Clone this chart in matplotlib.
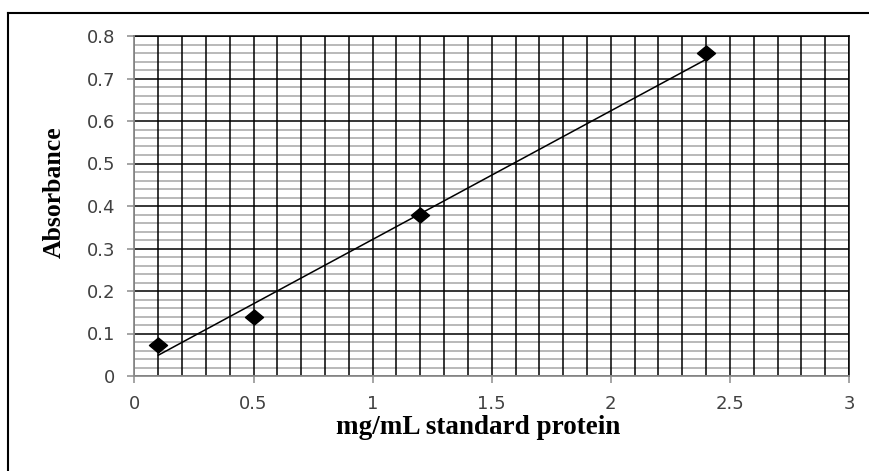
import matplotlib
matplotlib.use('Agg')
import matplotlib.pyplot as plt
from matplotlib.ticker import MultipleLocator, FixedLocator
from matplotlib.path import Path
from matplotlib.lines import Line2D

# ---- data ----
conc = [0.1, 0.5, 1.2, 2.4]            # mg/mL standard protein
absorbance = [0.073, 0.14, 0.38, 0.76]  # absorbance
trend_x = [0.1, 2.4]                    # linear trendline ends
trend_y = [0.049, 0.745]
x_ticks = [0, 0.5, 1, 1.5, 2, 2.5, 3]
x_tick_labels = ['0', '0.5', '1', '1.5', '2', '2.5', '3']
y_ticks = [0, 0.1, 0.2, 0.3, 0.4, 0.5, 0.6, 0.7, 0.8]
y_tick_labels = ['0', '0.1', '0.2', '0.3', '0.4', '0.5', '0.6', '0.7', '0.8']
x_label = 'mg/mL standard protein'
y_label = 'Absorbance'

W, H = 870, 471
fig = plt.figure(figsize=(W / 100, H / 100), dpi=100)

# outer chart frame (left and top edges visible)
fig.add_artist(Line2D([8.5 / W, 8.5 / W], [0, 1 - 13 / H], color='black', lw=1.5,
                      transform=fig.transFigure))
fig.add_artist(Line2D([8.5 / W, 1], [1 - 13 / H, 1 - 13 / H], color='black', lw=1.5,
                      transform=fig.transFigure))

x0, x1 = 134.5, 849
y_top, y_bot = 36, 376
ax = fig.add_axes([x0 / W, (H - y_bot) / H, (x1 - x0) / W, (y_bot - y_top) / H])

ax.set_xlim(0, 3)
ax.set_ylim(0, 0.8)

ax.xaxis.set_major_locator(FixedLocator(x_ticks))
ax.set_xticklabels(x_tick_labels)
ax.xaxis.set_minor_locator(MultipleLocator(0.1))
ax.yaxis.set_major_locator(FixedLocator(y_ticks))
ax.set_yticklabels(y_tick_labels)
ax.yaxis.set_minor_locator(MultipleLocator(0.02))

ax.yaxis.set_zorder(1.0)
ax.xaxis.set_zorder(1.1)
ax.grid(which='minor', axis='y', color='#b9b9b9', lw=1.4)
ax.grid(which='major', axis='y', color='black', lw=1.1)
ax.grid(which='both', axis='x', color='black', lw=1.1)

ax.tick_params(which='minor', length=0)
ax.tick_params(which='major', length=5, width=1.1, color='#8c8c8c', direction='out',
               labelsize=13, labelcolor='#404040')
ax.tick_params(axis='y', pad=9)
ax.tick_params(axis='x', pad=8.5)
for lab in ax.get_xticklabels() + ax.get_yticklabels():
    lab.set_fontfamily('DejaVu Sans')

for s in ['left', 'bottom']:
    ax.spines[s].set_color('#8c8c8c')
    ax.spines[s].set_linewidth(1.3)
    ax.spines[s].set_zorder(3)
for s in ['top', 'right']:
    ax.spines[s].set_color('black')
    ax.spines[s].set_linewidth(1.1)

diamond = Path([(-1.2, 0), (0, 1), (1.2, 0), (0, -1), (-1.2, 0)],
               [Path.MOVETO, Path.LINETO, Path.LINETO, Path.LINETO, Path.CLOSEPOLY])
ax.plot(trend_x, trend_y, color='black', lw=1.1, zorder=5)
ax.plot(conc, absorbance, linestyle='none', marker=diamond, markersize=13,
        color='black', zorder=6)

fig.text(478.5 / W, (H - 434) / H, x_label, ha='center', va='baseline',
         fontfamily='Liberation Serif', fontweight='bold', fontsize=19.5)
fig.text(54 / W, (H - 192) / H, y_label, ha='center', va='center', rotation=90,
         fontfamily='Liberation Serif', fontweight='bold', fontsize=18.5)

fig.savefig('out.png', dpi=100)
